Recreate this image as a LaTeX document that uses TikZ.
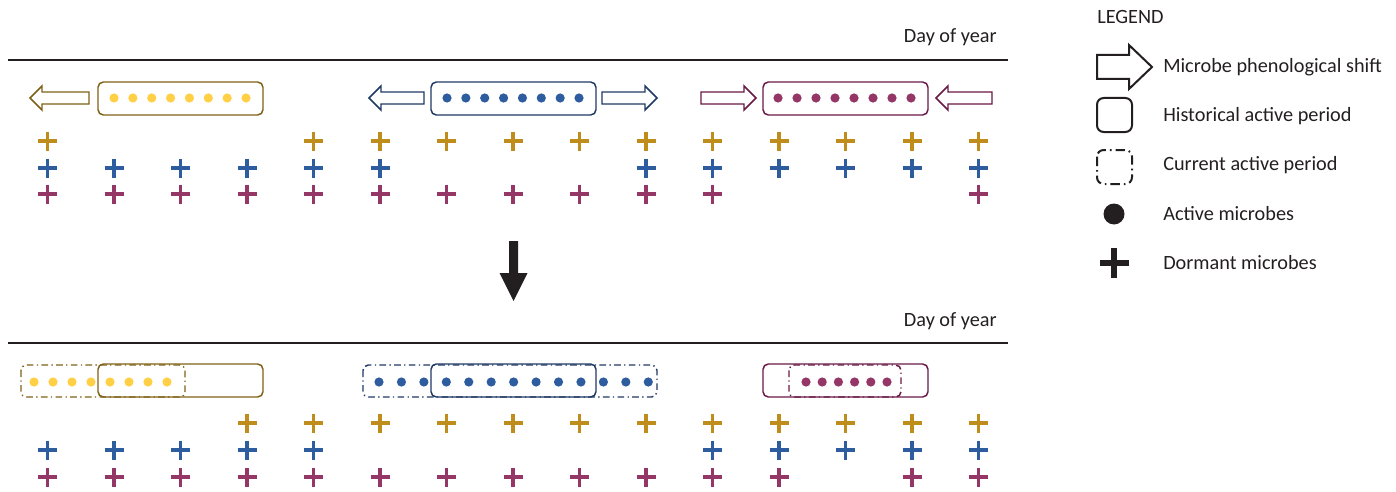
\documentclass[tikz,border=0pt]{standalone}
\usepackage{fontspec}
\setmainfont{Carlito}
\definecolor{ydot}{HTML}{FFCF45}
\definecolor{ycross}{HTML}{BF8D1C}
\definecolor{yline}{HTML}{7F6116}
\definecolor{bdot}{HTML}{2D5D9F}
\definecolor{bline}{HTML}{1F3864}
\definecolor{pdot}{HTML}{943766}
\definecolor{pline}{HTML}{6A1845}
\definecolor{ink}{HTML}{231F20}
\tikzset{
  plus/.pic={\draw[line width=2.5pt, pic actions] (-9.5,0) -- (9.5,0) (0,-9.5) -- (0,9.5);},
  period/.style={line width=1.1pt, rounded corners=4pt},
  current/.style={line width=1.1pt, rounded corners=4pt, dash pattern=on 5pt off 2.5pt on 1pt off 2.5pt},
  axis/.style={line width=2.2pt, ink},
  shiftshape/.style={line width=1.1pt, fill=white, line join=miter},
  lbl/.style={font=\fontsize{15.2pt}{18pt}\selectfont, text=ink, inner sep=0pt},
}
% hollow block arrow: tail x, tip x, centre y, body half-height, head half-height, head length, colour
\newcommand\shiftarrow[7]{%
  \pgfmathsetmacro\dir{(#2>#1)?1:-1}%
  \draw[shiftshape,draw=#7] (#1,#3-#4) -- ({#2-\dir*#6},#3-#4) -- ({#2-\dir*#6},#3-#5) -- (#2,#3)
    -- ({#2-\dir*#6},#3+#5) -- ({#2-\dir*#6},#3+#4) -- (#1,#3+#4) -- cycle;}
\begin{document}
\begin{tikzpicture}[x=0.75pt,y=-0.75pt]
\useasboundingbox (0,0) rectangle (1396,492);

% ---------- time axes ----------
\draw[axis] (8,60) -- (1008,60);
\node[lbl, anchor=base east] (doyA) at (997,43) {Day of year};
\draw[axis] (8,343) -- (1008,343);
\node[lbl, anchor=base east] (doyB) at (997,326) {Day of year};

% ---------- historical state ----------
\draw[period, yline] (98,82) rectangle (263,115);
\foreach \k in {0,...,7} \fill[ydot] ({114+18.86*\k},98) circle (4.6);
\shiftarrow{89}{30}{98}{6}{12}{12}{yline}

\draw[period, bline] (431,82) rectangle (596,115);
\foreach \k in {0,...,7} \fill[bdot] ({447+18.86*\k},98) circle (4.6);
\shiftarrow{424}{369}{98}{6}{12}{12}{bline}
\shiftarrow{602}{657}{98}{6}{12}{12}{bline}

\draw[period, pline] (763,82) rectangle (928,115);
\foreach \k in {0,...,7} \fill[pdot] ({778+19*\k},98) circle (4.6);
\shiftarrow{701}{756}{98}{6}{12}{12}{pline}
\shiftarrow{992}{936}{98}{6}{12}{12}{pline}

\foreach \i in {0,4,5,6,7,8,9,10,11,12,13,14}
  \pic[ycross] at ({47.5+66.5*\i},141) {plus};
\foreach \i in {0,1,2,3,4,5,9,10,11,12,13,14}
  \pic[bdot] at ({47.5+66.5*\i},168) {plus};
\foreach \i in {0,1,2,3,4,5,6,7,8,9,10,14}
  \pic[pdot] at ({47.5+66.5*\i},194) {plus};

% ---------- transition ----------
\fill[ink] (509,241) -- (518,241) -- (518,273) -- (527.5,273) -- (513.5,301)
  -- (499.5,273) -- (509,273) -- cycle;

% ---------- current state ----------
\draw[period, yline] (98,364) rectangle (263,397);
\draw[current, yline] (21,365) rectangle (185,397);
\foreach \k in {0,...,7} \fill[ydot] ({34+19*\k},382) circle (4.6);

\draw[period, bline] (431,364) rectangle (596,397);
\draw[current, bline] (363,365) rectangle (657,397);
\foreach \k in {0,...,12} \fill[bdot] ({379+22.44*\k},382) circle (4.6);

\draw[period, pline] (763,364) rectangle (928,397);
\draw[current, pline] (789,365) rectangle (901,397);
\foreach \k in {0,...,5} \fill[pdot] ({806+16.2*\k},382) circle (4.6);

\foreach \i in {3,4,5,6,7,8,9,10,11,12,13,14}
  \pic[ycross] at ({47.5+66.5*\i},423) {plus};
\foreach \i in {0,1,2,3,4,10,11,12,13,14}
  \pic[bdot] at ({47.5+66.5*\i},450) {plus};
\foreach \i in {0,1,2,3,4,5,6,7,8,9,10,11,13,14}
  \pic[pdot] at ({47.5+66.5*\i},477) {plus};

% ---------- legend ----------
\node[lbl, anchor=west] (legtitle) at (1097,17) {LEGEND};
\begin{scope}[shiftshape/.append style={line width=1.5pt}]
  \shiftarrow{1097}{1152}{67}{12}{22}{23}{ink}
\end{scope}
\node[lbl, anchor=west] (legshift) at (1163,67) {Microbe phenological shift};
\draw[period, ink, line width=1.5pt, rounded corners=5pt] (1097,98) rectangle (1132,132);
\node[lbl, anchor=west] (leghist) at (1163,116) {Historical active period};
\draw[current, ink, line width=1.5pt, rounded corners=5pt, dash pattern=on 7pt off 3pt on 1.2pt off 3pt]
  (1097,150) rectangle (1132,184);
\node[lbl, anchor=west] (legcur) at (1163,165) {Current active period};
\fill[ink] (1114,214) circle (10.5);
\node[lbl, anchor=west] (legact) at (1163,214) {Active microbes};
\draw[ink, line width=4.5pt] (1099.5,263) -- (1128.5,263) (1114,248) -- (1114,278);
\node[lbl, anchor=west] (legdorm) at (1163,263) {Dormant microbes};
\end{tikzpicture}
\end{document}
